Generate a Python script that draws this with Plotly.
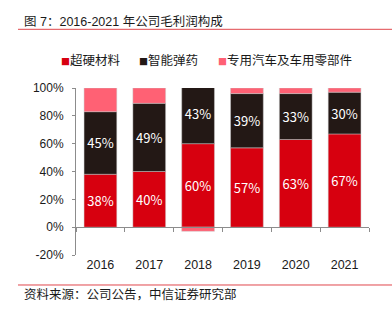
import plotly.graph_objects as go

years = ["2016", "2017", "2018", "2019", "2020", "2021"]
superhard = [38, 40, 60, 57, 63, 67]
ammo = [45, 49, 43, 39, 33, 30]
auto_parts = [17, 11, -3, 4, 4, 3]
series_names = ["超硬材料", "智能弹药", "专用汽车及车用零部件"]
y_ticks = [-20, 0, 20, 40, 60, 80, 100]
y_tick_text = ["-20%", "0%", "20%", "40%", "60%", "80%", "100%"]

RED = "#D7000F"
BLACK = "#231815"
PINK = "#FF6174"
COLORS = [RED, BLACK, PINK]
CJK = "Noto Sans CJK SC"
LAT = "Liberation Sans"
MIX = "Liberation Sans, Noto Sans CJK SC"

fig = go.Figure()
line_style = dict(width=0.6, color="rgba(200,200,200,0.8)")
fig.add_trace(go.Bar(x=years, y=superhard, name=series_names[0], marker=dict(color=RED, line=line_style),
                     text=[f"{v}%" for v in superhard], textposition="inside", insidetextanchor="middle",
                     textfont=dict(color="white", size=13, family=CJK), width=0.67))
fig.add_trace(go.Bar(x=years, y=ammo, name=series_names[1], marker=dict(color=BLACK, line=line_style),
                     text=[f"{v}%" for v in ammo], textposition="inside", insidetextanchor="middle",
                     textfont=dict(color="white", size=13, family=CJK), width=0.67))
fig.add_trace(go.Bar(x=years, y=auto_parts, name=series_names[2], marker=dict(color=PINK, line=line_style),
                     textposition="none", width=0.67))

fig.update_layout(
    width=392, height=321,
    margin=dict(l=76, r=23, t=88, b=66),
    paper_bgcolor="white", plot_bgcolor="white",
    barmode="relative",
    uniformtext=dict(minsize=8, mode="show"),
    font=dict(family=LAT, color="#1a1a1a", size=12),
    showlegend=False,
    xaxis=dict(type="category", range=[-0.5, 5.5], showline=False, ticks="",
               tickfont=dict(family=LAT, size=12.5, color="#1a1a1a"), showgrid=False, zeroline=False),
    xaxis2=dict(type="category", overlaying="x", matches="x", anchor="free", position=20/120,
                showline=True, linecolor="#8c8c8c", linewidth=1, ticks="outside", ticklen=4,
                tickcolor="#8c8c8c", tickson="boundaries", showticklabels=False, showgrid=False,
                categoryarray=years, categoryorder="array"),
    yaxis=dict(range=[-20, 100], tickvals=y_ticks, ticktext=y_tick_text, showgrid=False, zeroline=False,
               showline=True, linecolor="#8c8c8c", linewidth=1, ticks="outside", ticklen=3,
               tickcolor="#8c8c8c", tickfont=dict(family=LAT, size=12, color="#1a1a1a"),
               ticklabelstandoff=6),
)
fig.add_trace(go.Scatter(x=years, y=[None]*len(years), xaxis="x2", yaxis="y", showlegend=False,
                         hoverinfo="skip", mode="markers"))

# legend drawn as text items
legend_x = [-0.058, 0.208, 0.478]
for name, col, lx in zip(series_names, COLORS, legend_x):
    fig.add_annotation(text=f"<span style='color:{col};font-size:9px'>■</span>{name}",
                       xref="paper", yref="paper", x=lx, y=1.168, xanchor="left", yanchor="middle",
                       showarrow=False, font=dict(family=CJK, size=12.5, color="#1a1a1a"))

fig.add_annotation(text="图 7：2016-2021 年公司毛利润构成", xref="paper", yref="paper",
                   x=-0.184, y=1.401, xanchor="left", yanchor="middle", showarrow=False,
                   font=dict(family=MIX, size=12.5, color="#1a1a1a"))
fig.add_annotation(text="资料来源：公司公告，中信证券研究部", xref="paper", yref="paper",
                   x=-0.184, y=-0.2335, xanchor="left", yanchor="middle", showarrow=False,
                   font=dict(family=CJK, size=12.5, color="#1a1a1a"))
for yy in [1.3515, -0.1796]:
    fig.add_shape(type="line", xref="paper", yref="paper", x0=-0.198, x1=1.08, y0=yy, y1=yy,
                  line=dict(color="#E0474C", width=1))

fig.write_html("out.html")
